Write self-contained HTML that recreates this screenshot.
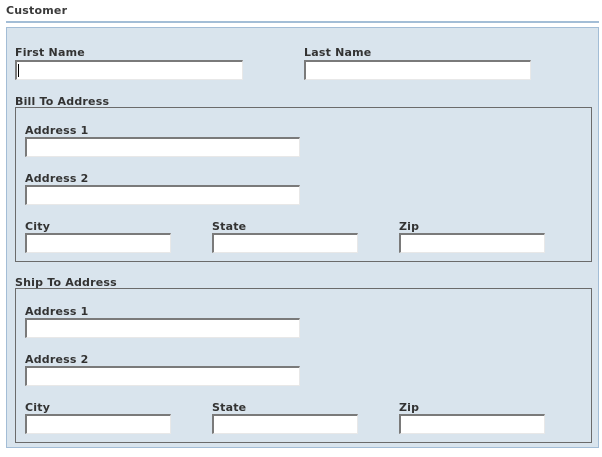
<!DOCTYPE html>
<html><head><style>
body{margin:0;width:602px;height:457px;background:#fff;position:relative;font-family:"DejaVu Sans","Liberation Sans",sans-serif;font-size:11px;font-weight:bold;color:#333;overflow:hidden}
.a{position:absolute}
.l{position:absolute;font-size:11px;font-weight:bold;color:#333;line-height:13px;white-space:nowrap;letter-spacing:0.2px}
.i{position:absolute;height:20px;box-sizing:border-box;background:#fff;border-top:2px solid #7a7a7a;border-left:2px solid #7a7a7a;border-right:1px solid #e8e8e8;border-bottom:1px solid #e8e8e8}
.f{position:absolute;border:1px solid #6b6b6b;box-sizing:border-box}
</style></head><body>
<div class="l" style="left:6px;top:4px;color:#3a3a3a">Customer</div>
<div class="a" style="left:6px;top:21px;width:593px;height:2px;background:#a3bdd6"></div>
<div class="a" style="left:6px;top:27px;width:593px;height:421px;box-sizing:border-box;border:1px solid #a3bdd6;background:#d9e4ed"></div>

<div class="l" style="left:15px;top:46px">First Name</div>
<div class="i" style="left:15px;top:60px;width:228px"><div class="a" style="left:1px;top:2px;width:1px;height:13px;background:#000"></div></div>
<div class="l" style="left:304px;top:46px">Last Name</div>
<div class="i" style="left:304px;top:60px;width:227px"></div>

<div class="l" style="left:15px;top:95px">Bill To Address</div>
<div class="f" style="left:15px;top:107px;width:577px;height:155px"></div>
<div class="l" style="left:25px;top:124px">Address 1</div>
<div class="i" style="left:25px;top:137px;width:275px"></div>
<div class="l" style="left:25px;top:172px">Address 2</div>
<div class="i" style="left:25px;top:185px;width:275px"></div>
<div class="l" style="left:25px;top:220px">City</div>
<div class="i" style="left:25px;top:233px;width:146px"></div>
<div class="l" style="left:212px;top:220px">State</div>
<div class="i" style="left:212px;top:233px;width:146px"></div>
<div class="l" style="left:399px;top:220px">Zip</div>
<div class="i" style="left:399px;top:233px;width:146px"></div>

<div class="l" style="left:15px;top:276px">Ship To Address</div>
<div class="f" style="left:15px;top:288px;width:577px;height:155px"></div>
<div class="l" style="left:25px;top:305px">Address 1</div>
<div class="i" style="left:25px;top:318px;width:275px"></div>
<div class="l" style="left:25px;top:353px">Address 2</div>
<div class="i" style="left:25px;top:366px;width:275px"></div>
<div class="l" style="left:25px;top:401px">City</div>
<div class="i" style="left:25px;top:414px;width:146px"></div>
<div class="l" style="left:212px;top:401px">State</div>
<div class="i" style="left:212px;top:414px;width:146px"></div>
<div class="l" style="left:399px;top:401px">Zip</div>
<div class="i" style="left:399px;top:414px;width:146px"></div>
</body></html>
